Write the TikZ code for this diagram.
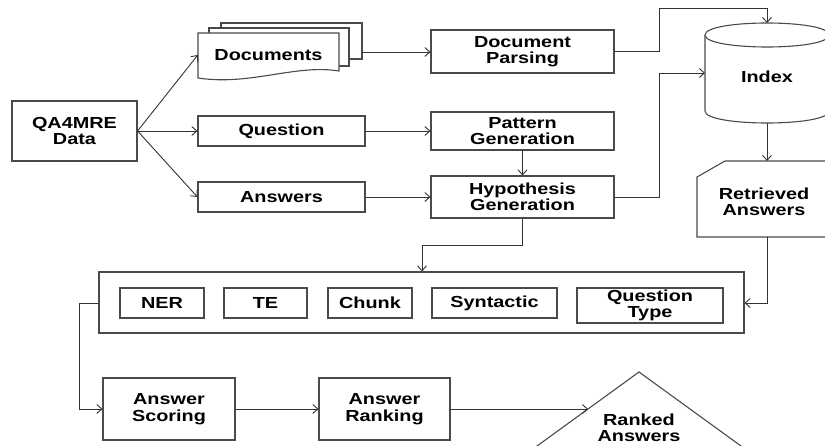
\documentclass[tikz,border=0pt]{standalone}
\usepackage{fontspec}
\usetikzlibrary{arrows.meta}
\newfontfamily\lblfont{Liberation Sans}[FakeStretch=1.24]
\definecolor{boxgray}{HTML}{4A4A4A}
\definecolor{linegray}{HTML}{333333}
\newcommand{\lbl}{\lblfont\bfseries\fontsize{16}{16.5}\selectfont}
\tikzset{
  box/.style={draw=boxgray, line width=1.1pt, fill=white, inner sep=0pt,
              align=center, font=\lbl, text=black},
  plain/.style={inner sep=0pt, align=center, font=\lbl, text=black},
  shapeline/.style={draw=boxgray, line width=1.1pt, fill=white},
  link/.style={draw=linegray, line width=0.9pt,
               -{Straight Barb[length=5pt,width=9pt,line width=0.9pt]}},
}
\begin{document}
\begin{tikzpicture}[x=1pt,y=-1pt]
\useasboundingbox (0,0) rectangle (825,446);
\clip (0,0) rectangle (825,446);
\fill[white] (0,0) rectangle (825,446);

% source data
\node[box, minimum width=125pt, minimum height=60pt] (qa) at (74.5,131) {QA4MRE\\Data};

% stacked document pages
\draw[shapeline] (221,23) rectangle (362,59);
\draw[shapeline] (209,28) rectangle (349,66);
\draw[shapeline] (198,33) -- (339,33) -- (339,71)
  .. controls (295,64) and (250,86) .. (198,78) -- cycle;
\node[plain, minimum width=141pt, minimum height=45pt] (docs) at (268.5,55) {Documents};
\coordinate (docsback) at (362,52);

\node[box, minimum width=167pt, minimum height=30pt] (question) at (281.5,131) {Question};
\node[box, minimum width=167pt, minimum height=30pt] (answers) at (281.5,197) {Answers};

\node[box, minimum width=183pt, minimum height=43pt] (parse) at (522.5,51.5) {Document\\Parsing};
\node[box, minimum width=183pt, minimum height=38pt] (pattern) at (522.5,131) {Pattern\\Generation};
\node[box, minimum width=183pt, minimum height=42pt] (hypo) at (522.5,197) {Hypothesis\\Generation};

% index cylinder
\draw[shapeline] (705,35) -- (705,111)
  .. controls (705,127) and (829,127) .. (829,111) -- (829,35);
\draw[shapeline] (705,35) .. controls (705,19) and (829,19) .. (829,35)
  .. controls (829,51) and (705,51) .. (705,35);
\node[plain] (index) at (767,77) {Index};
\coordinate (indextop) at (767,23);
\coordinate (indexleft) at (705,73);
\coordinate (indexbottom) at (767,123);

% retrieved answers card
\draw[shapeline] (725,161) -- (840,161) -- (840,237) -- (697,237) -- (697,177) -- cycle;
\node[plain] (retr) at (764,202) {Retrieved\\Answers};
\coordinate (retrtop) at (767,161);
\coordinate (retrbottom) at (767,237);

% feature extraction group
\node[box, minimum width=645pt, minimum height=61pt] (features) at (421.5,302.5) {};
\node[box, minimum width=84pt, minimum height=30pt] (ner) at (162,303) {NER};
\node[box, minimum width=83pt, minimum height=30pt] (te) at (265.5,303) {TE};
\node[box, minimum width=84pt, minimum height=30pt] (chunk) at (370,303) {Chunk};
\node[box, minimum width=125pt, minimum height=30pt] (syn) at (494.5,303) {Syntactic};
\node[box, minimum width=146pt, minimum height=35pt] (qtype) at (650,305.5) {Question\\Type};

\node[box, minimum width=132pt, minimum height=62pt] (scoring) at (169,409) {Answer\\Scoring};
\node[box, minimum width=131pt, minimum height=62pt] (ranking) at (384.5,409) {Answer\\Ranking};

% ranked answers triangle
\draw[shapeline] (639,372) -- (815.4,500) -- (462.6,500) -- cycle;
\node[plain] (ranked) at (639,428) {Ranked\\Answers};
\coordinate (rankedin) at (588,409);

% connectors
\draw[link] (qa.east) -- (docs.west);
\draw[link] (qa.east) -- (question.west);
\draw[link] (qa.east) -- (answers.west);
\draw[link] (docsback) -- (parse.west |- docsback);
\draw[link] (question.east) -- (pattern.west);
\draw[link] (answers.east) -- (hypo.west);
\draw[link] (pattern.south) -- (hypo.north);
\draw[link] (parse.east) -- (659,51.5) -- (659,8) -- (767,8) -- (indextop);
\draw[link] (hypo.east) -- (659,197) -- (659,73) -- (indexleft);
\draw[link] (indexbottom) -- (retrtop);
\draw[link] (hypo.south) -- (hypo.south |- 0,245) -- (422,245) -- (features.north -| 422,0);
\draw[link] (retrbottom) -- (767,303) -- (features.east |- 0,303);
\draw[link] (features.west |- 0,303) -- (79,303) -- (79,409) -- (scoring.west);
\draw[link] (scoring.east) -- (ranking.west);
\draw[link] (ranking.east) -- (rankedin);
\end{tikzpicture}
\end{document}
